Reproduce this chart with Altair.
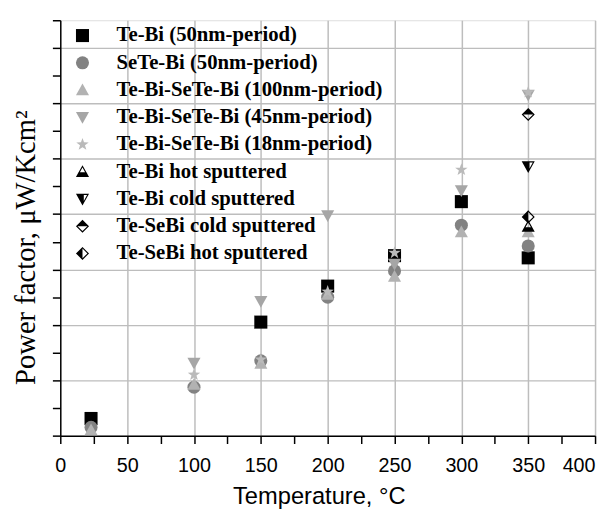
import altair as alt
import pandas as pd

series_names = [
    "Te-Bi (50nm-period)",
    "SeTe-Bi (50nm-period)",
    "Te-Bi-SeTe-Bi (100nm-period)",
    "Te-Bi-SeTe-Bi (45nm-period)",
    "Te-Bi-SeTe-Bi (18nm-period)",
    "Te-Bi hot sputtered",
    "Te-Bi cold sputtered",
    "Te-SeBi cold sputtered",
    "Te-SeBi hot sputtered",
]

x_tebi50 = [23, 150, 200, 250, 300, 350]
y_tebi50 = [0.62, 4.1, 5.4, 6.5, 8.45, 6.42]
x_sete50 = [23, 100, 150, 200, 250, 300, 350]
y_sete50 = [0.3, 1.75, 2.7, 5.0, 5.95, 7.6, 6.85]
x_p100 = [23, 100, 150, 200, 250, 300, 350]
y_p100 = [0.2, 1.85, 2.6, 5.1, 5.75, 7.35, 7.35]
x_p45 = [100, 150, 200, 250, 300, 350]
y_p45 = [2.62, 4.85, 7.95, 6.2, 8.85, 12.3]
x_p18 = [100, 150, 200, 250, 300, 350]
y_p18 = [2.2, 2.75, 5.2, 6.6, 9.6, 12.4]
x_tebi_hot = [350]
y_tebi_hot = [7.55]
x_tebi_cold = [350]
y_tebi_cold = [9.72]
x_tesebi_cold = [350]
y_tesebi_cold = [11.6]
x_tesebi_hot = [350]
y_tesebi_hot = [7.9]

x_ticks = list(range(0, 401, 25))
y_ticks = list(range(0, 16))

all_x = [x_tebi50, x_sete50, x_p100, x_p45, x_p18, x_tebi_hot, x_tebi_cold, x_tesebi_cold, x_tesebi_hot]
all_y = [y_tebi50, y_sete50, y_p100, y_p45, y_p18, y_tebi_hot, y_tebi_cold, y_tesebi_cold, y_tesebi_hot]

rows = []
for i, (name, xs, ys) in enumerate(zip(series_names, all_x, all_y)):
    for xv, yv in zip(xs, ys):
        rows.append({"series": name, "order": i, "temp": xv, "pf": yv})
df = pd.DataFrame(rows)

# marker styles
fill_colors = ["#000000", "#828282", "#b2b2b2", "#a6a6a6", "#bababa",
               "#000000", "#000000", "#000000", "#000000"]
star = ("M0,-1L0.235,-0.324L0.951,-0.309L0.38,0.124L0.588,0.809L0,0.42"
        "L-0.588,0.809L-0.38,0.124L-0.951,-0.309L-0.235,-0.324Z")
tri_up = "M0,-1L1,0.8L-1,0.8Z"
tri_down = "M0,1L-1,-0.8L1,-0.8Z"
tri_up_half = ("M0,-1L1,0.8L-1,0.8Z"
               "M0,-0.63L-0.694,0.62L0.694,0.62Z"
               "M-0.611,0.1L0.611,0.1L1,0.8L-1,0.8Z")
tri_down_notch = "M-1,-0.8L1,-0.8L0,1ZM0.2,-0.6L0.2,0.3L0.7,-0.6Z"
diamond_top = "M0,-1L1,0L0,1L-1,0ZM-0.75,0L0,0.75L0.75,0Z"
diamond_left = "M0,-1L1,0L0,1L-1,0ZM0,-0.75L0,0.75L0.75,0Z"
shapes = ["square", "circle", tri_up, tri_down, star,
          tri_up_half, tri_down_notch, diamond_top, diamond_left]

legend_args = dict(
    title=None, orient="none", legendX=12, legendY=5,
    labelFont="Liberation Serif", labelFontSize=21, labelFontWeight="bold",
    labelColor="black", symbolSize=175, symbolStrokeWidth=0, symbolOpacity=1,
    rowPadding=5.6, labelOffset=24, padding=0, labelLimit=0,
)

x_axis = alt.Axis(
    values=x_ticks,
    labelExpr="datum.value % 50 == 0 ? datum.label : ''",
    labelFlush=False, labelOverlap=False,
    labelAlign={"condition": {"test": "datum.value == 400", "value": "right"}, "value": "center"},
    labelFont="Liberation Sans", labelFontSize=20, labelColor="black", labelPadding=12,
    tickSize=8, tickColor="black", tickWidth=1.5,
    domainColor="black", domainWidth=1.5,
    grid=True, gridColor="#bdbdbd", gridWidth=1.5,
    gridOpacity={"condition": {"test": "datum.value % 50 == 0 && datum.value > 0", "value": 1}, "value": 0},
    title="Temperature, °C", titleFont="Liberation Sans", titleFontSize=24,
    titleFontWeight="normal", titleColor="black",
    titleX=262, titleY=62, titleBaseline="middle", titleAlign="center",
)

y_axis = alt.Axis(
    values=y_ticks, labels=False,
    tickSize=8, tickColor="black", tickWidth=1.5,
    domainColor="black", domainWidth=1.5,
    grid=True, gridColor="#bdbdbd", gridWidth=1.5,
    gridOpacity={"condition": {"test": "datum.value % 2 == 0 && datum.value > 0", "value": 1}, "value": 0},
    title="Power factor, μW/Kcm²", titleFont="Liberation Serif", titleFontSize=29,
    titleFontWeight="normal", titleColor="black", titleAngle=270,
    titleX=-35, titleY=230, titleBaseline="middle", titleAlign="center",
)

chart = alt.Chart(df).mark_point(filled=True, opacity=1, size=175, strokeWidth=0).encode(
    x=alt.X("temp:Q", scale=alt.Scale(domain=[0, 400], nice=False), axis=x_axis),
    y=alt.Y("pf:Q", scale=alt.Scale(domain=[0, 15], nice=False), axis=y_axis),
    shape=alt.Shape("series:N", scale=alt.Scale(domain=series_names, range=shapes),
                    legend=alt.Legend(**legend_args)),
    fill=alt.Fill("series:N", scale=alt.Scale(domain=series_names, range=fill_colors),
                  legend=alt.Legend(**legend_args)),
    order=alt.Order("order:Q"),
).properties(
    width=542, height=421,
    autosize=alt.AutoSizeParams(type="none"),
    padding={"left": 53, "top": 9, "right": 4, "bottom": 77},
).configure_view(
    stroke="#303030", strokeWidth=1.2
).configure(background="white")

chart.save("out.html", embed_options={"renderer": "svg", "actions": False})
